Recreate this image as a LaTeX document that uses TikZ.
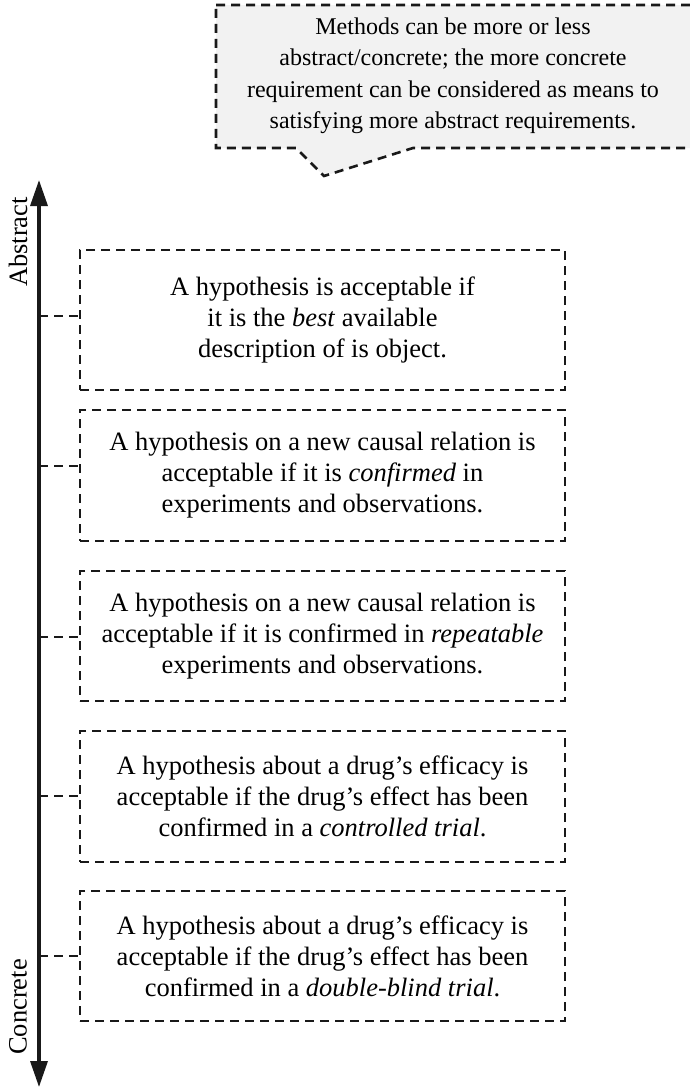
\documentclass[tikz,border=0pt]{standalone}
\usepackage{fontspec}
\setmainfont{Liberation Serif}
\usetikzlibrary{arrows.meta}
\begin{document}
\begin{tikzpicture}[x=1pt,y=-1pt,
  dashline/.style={line width=2.6pt, dash pattern=on 9pt off 6pt, draw=black!90},
  claim/.style={dashline, rectangle, minimum width=485pt, inner sep=0pt,
    align=center, font=\fontsize{26.5}{31}\selectfont, text=black},
  axislabel/.style={rotate=90, font=\fontsize{26.5}{31}\selectfont, text=black},
  axtip/.tip={Triangle[length=26pt,width=17pt]},
]
\useasboundingbox (0,0) rectangle (690,1092);

% speech-bubble note at the top
\begin{scope}
  \clip (0,0) rectangle (690,1092);
  \draw[dashline, fill=gray!10] (216,5) -- (694,5) -- (694,148) -- (413,148)
    -- (324,176) -- (296,148) -- (216,148) -- cycle;
\end{scope}
\node[align=center, font=\fontsize{24}{31.5}\selectfont, text=black] (note) at (453,76)
  {Methods can be more or less\\abstract/concrete; the more concrete\\requirement can be considered as means to\\satisfying more abstract requirements.};

% abstract--concrete axis
\coordinate (top) at (39,180);
\coordinate (bot) at (39,1087);
\draw[line width=3.4pt, draw=black!90, fill=black!90, axtip-axtip] (bot) -- (top);
\node[axislabel] (abs) at (18,242) {Abstract};
\node[axislabel] (con) at (18,1007) {Concrete};

% requirements, from abstract to concrete
\node[claim, minimum height=140pt] (b1) at (322.5,320)
  {A hypothesis is acceptable if\\it is the \emph{best} available\\description of is object.};
\node[claim, minimum height=131pt] (b2) at (322.5,475.5)
  {A hypothesis on a new causal relation is\\acceptable if it is \emph{confirmed} in\\experiments and observations.};
\node[claim, minimum height=130pt] (b3) at (322.5,636)
  {A hypothesis on a new causal relation is\\acceptable if it is confirmed in \emph{repeatable}\\experiments and observations.};
\node[claim, minimum height=131pt] (b4) at (322.5,796.5)
  {A hypothesis about a drug’s efficacy is\\acceptable if the drug’s effect has been\\confirmed in a \emph{controlled trial}.};
\node[claim, minimum height=130pt] (b5) at (322.5,956)
  {A hypothesis about a drug’s efficacy is\\acceptable if the drug’s effect has been\\confirmed in a \emph{double-blind trial}.};

% ticks tying each requirement to the axis
\coordinate (t1) at (39,316);
\coordinate (t2) at (39,466);
\coordinate (t3) at (39,637);
\coordinate (t4) at (39,796);
\coordinate (t5) at (39,956);
\foreach \i in {1,...,5}
  \draw[dashline] (t\i) -- (t\i -| b\i.west);
\end{tikzpicture}
\end{document}
